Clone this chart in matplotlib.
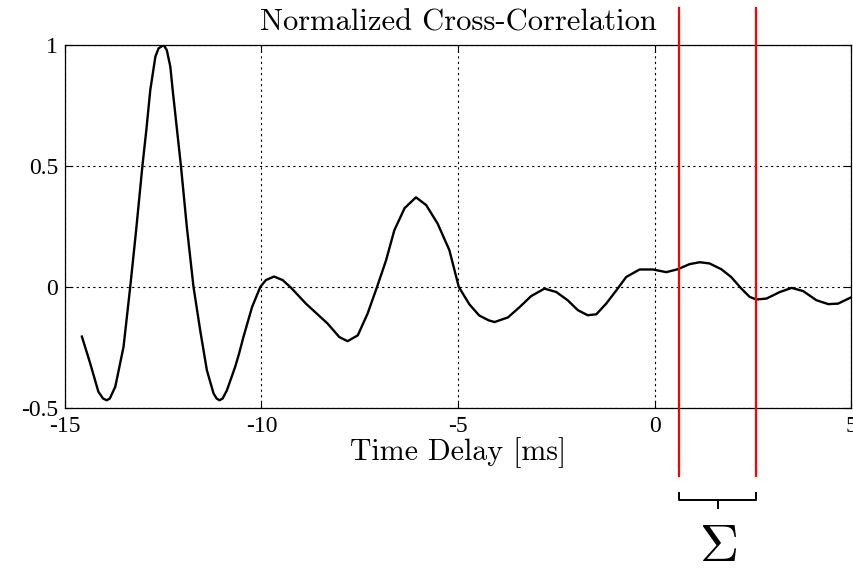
import matplotlib
matplotlib.use("Agg")
import matplotlib.pyplot as plt

# ---- data ----
delay_ms = [-14.57, -14.36, -14.15, -14.03, -13.94, -13.86, -13.72, -13.51, -13.34, -13.19,
            -13.03, -12.93, -12.83, -12.70, -12.62, -12.49, -12.41, -12.32, -12.26, -12.05,
            -11.90, -11.73, -11.56, -11.39, -11.22, -11.14, -11.07, -10.99, -10.88, -10.67,
            -10.57, -10.46, -10.24, -10.03, -9.89, -9.68, -9.46, -9.25, -8.87, -8.32,
            -8.02, -7.81, -7.55, -7.30, -7.06, -6.83, -6.62, -6.36, -6.07, -5.81,
            -5.52, -5.22, -4.98, -4.71, -4.46, -4.22, -4.07, -3.73, -3.43, -3.14,
            -2.80, -2.50, -2.21, -1.95, -1.70, -1.48, -1.23, -0.97, -0.72, -0.38,
            -0.04, 0.30, 0.59, 0.89, 1.15, 1.40, 1.70, 1.95, 2.21, 2.42,
            2.59, 2.85, 3.19, 3.49, 3.78, 4.12, 4.42, 4.67, 4.99]
xcorr = [-0.205, -0.315, -0.433, -0.461, -0.468, -0.461, -0.412, -0.247, 0.000, 0.234,
         0.500, 0.648, 0.813, 0.951, 0.985, 0.999, 0.978, 0.910, 0.813, 0.500,
         0.248, 0.000, -0.179, -0.344, -0.440, -0.461, -0.468, -0.461, -0.427, -0.330,
         -0.275, -0.207, -0.083, 0.000, 0.028, 0.043, 0.028, -0.003, -0.069, -0.151,
         -0.207, -0.224, -0.200, -0.110, 0.000, 0.110, 0.234, 0.325, 0.370, 0.338,
         0.262, 0.152, 0.000, -0.072, -0.118, -0.138, -0.145, -0.126, -0.083, -0.038,
         -0.007, -0.021, -0.055, -0.096, -0.117, -0.113, -0.069, -0.014, 0.041, 0.072,
         0.072, 0.061, 0.073, 0.094, 0.102, 0.097, 0.073, 0.041, -0.007, -0.041,
         -0.052, -0.048, -0.021, -0.004, -0.017, -0.055, -0.071, -0.069, -0.044]
window_ms = [0.62, 2.59]
xticks = [-15, -10, -5, 0, 5]
xticklabels = ["-15", "-10", "-5", "0", "5"]
yticks = [-0.5, 0, 0.5, 1]
yticklabels = ["-0.5", "0", "0.5", "1"]

plt.rcParams['mathtext.fontset'] = 'cm'
plt.rcParams['axes.unicode_minus'] = False

fig = plt.figure(figsize=(8.54, 5.74), dpi=100)
ax = fig.add_axes([0.0761, 0.2892, 0.9204, 0.6328])

ax.plot(delay_ms, xcorr, color='black', lw=1.7, solid_joinstyle='round')
ax.set_xlim(-15, 5)
ax.set_ylim(-0.5, 1)
ax.set_xticks(xticks)
ax.set_xticklabels(xticklabels, family='Liberation Serif', fontsize=17)
ax.set_yticks(yticks)
ax.set_yticklabels(yticklabels, family='Liberation Serif', fontsize=17)
ax.tick_params(direction='in', length=5, width=0.8, top=True, right=True)
ax.tick_params(axis='x', pad=6)
ax.tick_params(axis='y', pad=5)
ax.grid(True, color='black', linestyle=(0, (2, 3)), lw=0.8)
for s in ax.spines.values():
    s.set_linewidth(0.9)

ax.set_title("Normalized Cross-Correlation", family='cmr10', fontsize=22, pad=10)
ax.set_xlabel("Time Delay [ms]", family='cmr10', fontsize=21.5, labelpad=0)

# window lines extending outside the axes
for xv in window_ms:
    ax.plot([xv, xv], [-0.782, 1.150], color='red', lw=1.6, clip_on=False, zorder=5)

# bracket below the window
yb, ye, yt = -0.88, -0.85, -0.912
xm = (window_ms[0] + window_ms[1]) / 2
ax.plot([window_ms[0], window_ms[0], window_ms[1], window_ms[1]], [ye, yb, yb, ye],
        color='black', lw=1.4, clip_on=False)
ax.plot([xm, xm], [yb, yt], color='black', lw=1.4, clip_on=False)
ax.text(xm, -1.132, r'$\Sigma$', fontsize=39, ha='center', va='baseline', clip_on=False)

fig.savefig("out.png", dpi=100)
